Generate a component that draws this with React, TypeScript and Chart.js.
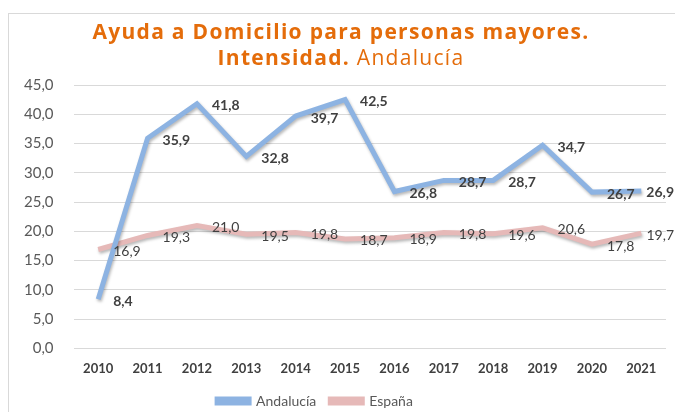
import React, { useEffect, useRef } from "react";
import { Chart, registerables } from "chart.js";

Chart.register(...registerables);

const years = ["2010", "2011", "2012", "2013", "2014", "2015", "2016", "2017", "2018", "2019", "2020", "2021"];
const andalucia = [8.4, 35.9, 41.8, 32.8, 39.7, 42.5, 26.8, 28.7, 28.7, 34.7, 26.7, 26.9];
const espana = [16.9, 19.3, 21.0, 19.5, 19.8, 18.7, 18.9, 19.8, 19.6, 20.6, 17.8, 19.7];

const BLUE = "#8DB3E2";
const PINK = "#E6B9B8";
const TEXT = "#404040";
const FONT = "Lato, 'Liberation Sans', sans-serif";

const fmt = (v: number) => v.toFixed(1).replace(".", ",");

const shadowPlugin = {
  id: "shadow",
  beforeDatasetsDraw(chart: any) {
    const ctx = chart.ctx;
    ctx.save();
    ctx.shadowColor = "rgba(0,0,0,0.28)";
    ctx.shadowBlur = 3;
    ctx.shadowOffsetX = 1;
    ctx.shadowOffsetY = 2;
  },
  afterDatasetsDraw(chart: any) {
    chart.ctx.restore();
  },
};

const labelsPlugin = {
  id: "valueLabels",
  afterDatasetsDraw(chart: any) {
    const ctx = chart.ctx;
    chart.data.datasets.forEach((ds: any, i: number) => {
      const meta = chart.getDatasetMeta(i);
      ctx.save();
      ctx.font = (i === 0 ? "bold " : "") + "14px " + FONT;
      ctx.fillStyle = TEXT;
      ctx.textAlign = "left";
      ctx.textBaseline = "middle";
      meta.data.forEach((pt: any, j: number) => {
        const txt = fmt(ds.data[j]);
        const w = ctx.measureText(txt).width;
        let x = pt.x + 15;
        if (x + w > chart.width - 1) x = chart.width - 1 - w;
        ctx.fillText(txt, x, pt.y + 2);
      });
      ctx.restore();
    });
  },
};

const legendShift = {
  id: "legendShift",
  afterLayout(chart: any) {
    const lg = chart.legend;
    if (!lg) return;
    const dx = -20;
    const dy = -10;
    lg.left += dx;
    lg.right += dx;
    lg.top += dy;
    lg.bottom += dy;
  },
};

export default function App() {
  const ref = useRef<HTMLCanvasElement>(null);
  useEffect(() => {
    document.body.style.margin = "0";
    const chart = new Chart(ref.current!, {
      type: "line",
      data: {
        labels: years,
        datasets: [
          {
            label: "Andalucía",
            data: andalucia,
            borderColor: BLUE,
            backgroundColor: BLUE,
            borderWidth: 5,
            pointRadius: 0,
            tension: 0,
          },
          {
            label: "España",
            data: espana,
            borderColor: PINK,
            backgroundColor: PINK,
            borderWidth: 5,
            pointRadius: 0,
            tension: 0,
          },
        ],
      },
      options: {
        responsive: false,
        animation: false,
        layout: { padding: { top: 85, left: 4, right: 9, bottom: -16 } },
        scales: {
          x: {
            offset: true,
            grid: { display: false, drawTicks: false },
            border: { display: false },
            ticks: { color: TEXT, font: { family: FONT, size: 13, weight: "bold" }, padding: 13 },
          },
          y: {
            min: 0,
            max: 45,
            grid: { color: "#D9D9D9", lineWidth: 1, drawTicks: false },
            border: { display: false },
            ticks: {
              stepSize: 5,
              color: "#595959",
              font: { family: FONT, size: 15 },
              padding: 20,
              callback: (v: any) => fmt(Number(v)),
            },
          },
        },
        plugins: {
          legend: {
            position: "bottom",
            labels: {
              boxWidth: 32,
              boxHeight: 4,
              color: "#595959",
              font: { family: FONT, size: 14 },
              padding: 14,
            },
          },
          tooltip: { enabled: false },
          title: { display: false },
        },
      },
      plugins: [shadowPlugin, labelsPlugin, legendShift],
    });
    return () => chart.destroy();
  }, []);

  return (
    <div style={{ position: "relative", width: 675, height: 412, background: "#fff", overflow: "hidden" }}>
      <div
        style={{
          position: "absolute",
          left: 8,
          top: 13,
          width: 675,
          height: 420,
          border: "1px solid #D9D9D9",
          boxSizing: "border-box",
        }}
      />
      <canvas ref={ref} width={675} height={412} style={{ position: "absolute", left: 0, top: 0 }} />
      <div
        style={{
          position: "absolute",
          left: 0,
          width: 682,
          top: 18,
          textAlign: "center",
          color: "#E46C0A",
          fontFamily: "'Open Sans', sans-serif",
          fontSize: 21,
          lineHeight: "26px",
          letterSpacing: "1.3px",
        }}
      >
        <div style={{ fontWeight: 700 }}>Ayuda a Domicilio para personas mayores.</div>
        <div>
          <span style={{ fontWeight: 700 }}>Intensidad.</span> <span style={{ fontWeight: 400 }}>Andalucía</span>
        </div>
      </div>
    </div>
  );
}
